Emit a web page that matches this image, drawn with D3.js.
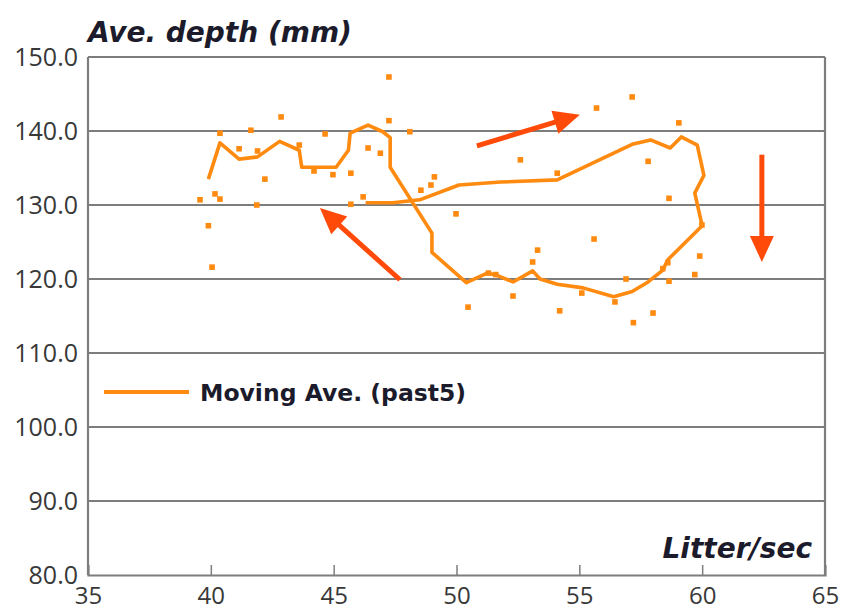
<!DOCTYPE html>
<html><head><meta charset="utf-8">
<script src="https://cdn.jsdelivr.net/npm/d3@7"></script>
<style>body{margin:0;background:#fff}svg{display:block}</style>
</head><body>
<svg id="c" width="843" height="610"></svg>
<script>
const xTicks = [35,40,45,50,55,60,65];
const yTicks = [80,90,100,110,120,130,140,150];
const yTitle = "Ave. depth (mm)";
const xTitle = "Litter/sec";
const legendLabel = "Moving Ave. (past5)";

// scatter points: [flow, depth]
const scatterX = [47.25,42.86,41.63,40.37,44.65,47.25,48.1,41.15,41.9,43.6,46.4,46.9,42.2,44.2,44.97,45.7,39.56,40.17,40.37,41.87,45.7,46.2,39.9,40.05,49.1,48.96,48.55,49.98,50.47,52.6,54.1,55.6,53.3,53.1,51.3,51.6,56.9,52.3,55.1,56.45,54.2,57.2,57.15,55.7,59.05,57.8,58.65,59.99,59.9,58.6,58.4,59.7,58.65,58.0];
const scatterY = [147.3,141.9,140.1,139.7,139.6,141.4,139.9,137.6,137.3,138.1,137.7,137.0,133.5,134.6,134.1,134.3,130.7,131.5,130.8,130.0,130.1,131.1,127.2,121.6,133.8,132.7,132.0,128.8,116.2,136.1,134.3,125.4,123.9,122.3,120.8,120.6,120.0,117.7,118.1,116.9,115.7,114.1,144.6,143.1,141.1,135.9,130.9,127.3,123.1,122.2,121.4,120.6,119.7,115.4];

// moving average (past 5)
const maX = [39.9,40.37,41.15,41.9,42.8,43.6,43.7,44.2,45.1,45.6,45.67,46.4,47.0,47.3,47.3,49.0,49.0,50.4,51.25,51.65,52.3,53.1,53.4,54.1,55.15,56.4,57.15,57.8,58.4,58.6,60.0,59.7,60.07,59.8,59.15,58.7,57.9,57.15,54.1,51.8,50.1,48.5,47.4,46.3];
const maY = [133.5,138.4,136.2,136.5,138.6,137.4,135.1,135.1,135.1,137.4,139.7,140.8,139.9,139.1,135.1,126.2,123.6,119.5,120.8,120.5,119.6,121.1,120.0,119.3,118.8,117.6,118.3,119.6,121.2,122.6,127.2,131.6,134.0,138.1,139.2,137.7,138.8,138.2,133.4,133.1,132.7,130.7,130.3,130.3];

// annotation arrows: tail -> tip
const arrowTailX = [47.7, 50.83, 62.43];
const arrowTailY = [119.9, 138.0, 136.8];
const arrowTipX  = [44.44, 55.02, 62.43];
const arrowTipY  = [129.6, 142.2, 122.3];

const W = 843, H = 610;
const m = {l:88, r:18, t:57, b:35};
const svg = d3.select("#c");
const x = d3.scaleLinear().domain([35,65]).range([m.l, W-m.r]);
const y = d3.scaleLinear().domain([80,150]).range([H-m.b, m.t]);
const font = "'Open Sans', 'Noto Sans', sans-serif";
const tfont = "'DejaVu Sans', 'Open Sans', sans-serif";
const gridC = "#7d7d7d";
const orange = "#ff8a10";
const red = "#ff4a0a";
const ink = "#1b1b2b";

// grid lines
svg.append("g").selectAll("line").data(yTicks.filter(v=>v>80)).join("line")
  .attr("x1", m.l).attr("x2", W-m.r).attr("y1", d=>y(d)).attr("y2", d=>y(d))
  .attr("stroke", gridC).attr("stroke-width", 2.2);
// frame
svg.append("line").attr("x1", m.l).attr("x2", m.l).attr("y1", y(150)).attr("y2", y(80)).attr("stroke", gridC).attr("stroke-width", 2.2);
svg.append("line").attr("x1", W-m.r).attr("x2", W-m.r).attr("y1", y(150)).attr("y2", y(80)).attr("stroke", gridC).attr("stroke-width", 2.2);

// x axis
const xa = svg.append("g").attr("transform", `translate(0,${y(80)})`)
  .call(d3.axisBottom(x).tickValues(xTicks).tickSize(-10).tickPadding(18).tickFormat(d3.format("d")));
xa.select(".domain").attr("stroke", gridC).attr("stroke-width", 2.2);
xa.selectAll(".tick line").attr("stroke", gridC).attr("stroke-width", 1.5)
  .attr("display", d => (d===35||d===65) ? "none" : null);
xa.selectAll("text").attr("font-family", font).attr("font-size", 24).attr("fill", "#383838").attr("dy", "0.45em");

// y labels
const ya = svg.append("g").attr("transform", `translate(${m.l},0)`)
  .call(d3.axisLeft(y).tickValues(yTicks).tickSize(0).tickPadding(10).tickFormat(d3.format(".1f")));
ya.select(".domain").remove();
ya.selectAll("text").attr("font-family", font).attr("font-size", 25).attr("fill", "#383838");

// titles
svg.append("text").attr("x", m.l).attr("y", 42).text(yTitle)
  .attr("font-family", tfont).attr("font-size", 28).attr("font-weight", "bold").attr("font-style", "italic").attr("fill", ink);
svg.append("text").attr("x", 812).attr("y", 558).attr("text-anchor", "end").text(xTitle)
  .attr("font-family", tfont).attr("font-size", 28).attr("font-weight", "bold").attr("font-style", "italic").attr("fill", ink);

// scatter
svg.append("g").selectAll("rect").data(scatterX.map((v,i)=>[v, scatterY[i]])).join("rect")
  .attr("x", d=>x(d[0])-2.8).attr("y", d=>y(d[1])-2.8).attr("width", 5.6).attr("height", 5.6).attr("fill", orange);

// moving average line
svg.append("path").datum(maX.map((v,i)=>[v, maY[i]]))
  .attr("d", d3.line().x(d=>x(d[0])).y(d=>y(d[1])))
  .attr("fill", "none").attr("stroke", orange).attr("stroke-width", 3.6).attr("stroke-linejoin", "round");

// arrows
arrowTailX.forEach((tx,i) => {
  const x0 = x(tx), y0 = y(arrowTailY[i]), x1 = x(arrowTipX[i]), y1 = y(arrowTipY[i]);
  const dx = x1-x0, dy = y1-y0, L = Math.hypot(dx,dy), ux = dx/L, uy = dy/L;
  const hl = 26, hw = 12;
  const bx = x1-ux*hl, by = y1-uy*hl;
  svg.append("line").attr("x1", x0).attr("y1", y0).attr("x2", bx+ux*2).attr("y2", by+uy*2)
    .attr("stroke", red).attr("stroke-width", 5);
  svg.append("path").attr("d", `M${x1},${y1}L${bx-uy*hw},${by+ux*hw}L${bx+uy*hw},${by-ux*hw}Z`).attr("fill", red);
});

// legend
svg.append("line").attr("x1", 104).attr("x2", 189).attr("y1", 392).attr("y2", 392).attr("stroke", orange).attr("stroke-width", 4);
svg.append("text").attr("x", 200).attr("y", 401).text(legendLabel)
  .attr("font-family", tfont).attr("font-size", 23.5).attr("font-weight", "bold").attr("fill", ink);
</script>
</body></html>
